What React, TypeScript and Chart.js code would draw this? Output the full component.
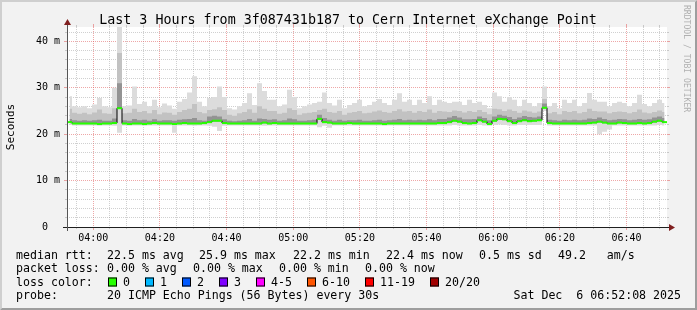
import React, { useEffect, useRef } from 'react';
import { Chart, registerables } from 'chart.js';

Chart.register(...registerables);

const W = 697;
const H = 310;
const FONT = '"DejaVu Sans Mono", monospace';

const TITLE = 'Last 3 Hours from 3f087431b187 to Cern Internet eXchange Point';
const Y_AXIS_TITLE = 'Seconds';
const SIDE_TEXT = 'RRDTOOL / TOBI OETIKER';

// time window 03:52:08 .. 06:52:08 (minutes of the day)
const X_MIN = 3 * 60 + 52 + 8 / 60;
const X_MAX = X_MIN + 180;
const STEP_MIN = 1.5;
const Y_MAX = 43.1;

const timeTickLabels = ['04:00', '04:20', '04:40', '05:00', '05:20', '05:40', '06:00', '06:20', '06:40'];
const yTickValues = [0, 10, 20, 30, 40];
const yTickLabels = ['0  ', '10 m', '20 m', '30 m', '40 m'];

// median RTT (ms), one value per 1.5 minutes
const medianRtt = [
  22.6, 22.3, 22.3, 22.3, 22.3, 22.3, 22.2, 22.3, 22.3, 22.4,
  25.6, 22.3, 22.2, 22.3, 22.3, 22.2, 22.3, 22.4, 22.3, 22.3,
  22.3, 22.2, 22.3, 22.4, 22.3, 22.3, 22.3, 22.4, 22.6, 22.9,
  22.9, 22.4, 22.3, 22.3, 22.3, 22.3, 22.3, 22.3, 22.3, 22.5,
  22.3, 22.4, 22.3, 22.3, 22.3, 22.3, 22.3, 22.3, 22.3, 22.3,
  23.3, 22.6, 22.5, 22.3, 22.3, 22.3, 22.4, 22.3, 22.3, 22.3,
  22.3, 22.3, 22.3, 22.2, 22.3, 22.3, 22.3, 22.3, 22.3, 22.3,
  22.3, 22.3, 22.3, 22.3, 22.4, 22.4, 22.6, 22.9, 22.7, 22.4,
  22.3, 22.4, 23.0, 22.7, 22.2, 22.9, 23.3, 23.2, 22.8, 22.4,
  22.8, 23.0, 22.8, 22.9, 23.0, 25.7, 22.4, 22.3, 22.3, 22.3,
  22.3, 22.3, 22.3, 22.3, 22.4, 22.5, 22.7, 22.5, 22.3, 22.3,
  22.5, 22.4, 22.3, 22.3, 22.4, 22.3, 22.4, 22.7, 22.9, 22.6,
];

// smoke: highest ping
const smokeMax = [
  28.2, 26.0, 25.8, 26.0, 25.6, 26.4, 27.8, 26.0, 25.8, 30.0,
  43.1, 26.0, 26.2, 30.3, 26.5, 27.0, 26.0, 27.4, 25.8, 26.6,
  26.2, 25.5, 27.0, 27.6, 29.0, 32.5, 27.0, 26.0, 27.8, 28.0,
  30.3, 28.0, 25.6, 25.3, 26.0, 26.7, 28.8, 26.3, 31.0, 29.3,
  27.4, 27.4, 26.0, 26.4, 29.6, 28.0, 25.6, 26.0, 26.4, 26.7,
  27.0, 29.0, 26.7, 26.2, 27.4, 25.6, 26.3, 26.7, 27.4, 26.0,
  26.3, 27.0, 27.6, 26.7, 26.3, 27.4, 28.8, 27.0, 27.4, 26.3,
  27.4, 26.7, 28.2, 26.3, 27.4, 27.0, 26.7, 27.0, 27.0, 26.3,
  27.4, 26.7, 27.0, 26.3, 25.6, 29.0, 28.2, 27.0, 28.0, 27.4,
  26.0, 27.4, 26.7, 26.0, 26.7, 30.3, 26.0, 26.7, 25.6, 27.4,
  26.7, 27.4, 26.0, 26.7, 28.9, 27.4, 27.0, 27.0, 26.0, 26.7,
  27.0, 26.7, 26.0, 26.7, 28.5, 26.5, 26.0, 26.7, 27.4, 26.7,
];

// smoke: upper medium band
const smokeMid = [
  25.5, 24.6, 24.4, 24.6, 24.3, 24.7, 25.3, 24.5, 24.4, 25.6,
  37.5, 24.5, 24.6, 25.5, 24.8, 25.0, 24.5, 25.2, 24.3, 24.7,
  24.6, 24.2, 24.8, 25.2, 25.5, 26.5, 24.8, 24.5, 25.2, 25.4,
  25.8, 25.2, 24.2, 24.0, 24.5, 24.8, 25.4, 24.6, 26.0, 25.5,
  25.0, 25.0, 24.4, 24.6, 25.6, 25.2, 24.2, 24.5, 24.6, 24.8,
  25.2, 25.5, 24.8, 24.6, 25.0, 24.2, 24.6, 24.8, 25.0, 24.5,
  24.6, 24.9, 25.1, 24.8, 24.6, 25.0, 25.4, 24.9, 25.0, 24.6,
  25.0, 24.8, 25.3, 24.6, 25.0, 24.9, 24.8, 25.1, 25.0, 24.7,
  25.0, 24.8, 25.2, 24.8, 24.3, 25.5, 25.4, 25.0, 25.3, 25.0,
  24.6, 25.1, 24.9, 24.6, 24.9, 27.6, 24.5, 24.8, 24.3, 25.0,
  24.8, 25.0, 24.5, 24.8, 25.5, 25.0, 24.9, 24.9, 24.5, 24.8,
  24.9, 24.8, 24.5, 24.8, 25.3, 24.7, 24.5, 24.8, 25.1, 24.8,
];

// smoke: dark band next to the median
const smokeInner = [
  23.3, 23.0, 22.9, 23.0, 22.9, 23.0, 23.1, 22.9, 22.9, 23.4,
  31.0, 23.0, 22.9, 23.3, 23.0, 23.1, 22.9, 23.2, 22.9, 23.0,
  23.0, 22.9, 23.1, 23.2, 23.3, 23.5, 23.0, 22.9, 23.8, 24.0,
  23.8, 23.2, 22.9, 22.8, 22.9, 23.0, 23.3, 22.9, 23.4, 23.3,
  23.1, 23.2, 22.9, 23.0, 23.4, 23.2, 22.9, 22.9, 23.0, 23.1,
  24.2, 23.5, 23.1, 22.9, 23.1, 22.9, 23.0, 23.0, 23.1, 22.9,
  22.9, 23.0, 23.1, 22.9, 23.0, 23.1, 23.3, 23.0, 23.1, 23.0,
  23.1, 23.0, 23.2, 23.0, 23.3, 23.3, 23.6, 23.9, 23.6, 23.2,
  23.2, 23.3, 23.8, 23.5, 23.0, 23.8, 24.2, 24.0, 23.7, 23.3,
  23.6, 23.9, 23.7, 23.6, 23.8, 26.6, 23.1, 23.0, 22.9, 23.1,
  23.0, 23.1, 23.0, 23.1, 23.4, 23.3, 23.6, 23.3, 23.0, 23.1,
  23.3, 23.2, 23.0, 23.1, 23.3, 23.1, 23.2, 23.6, 23.8, 23.5,
];

// smoke: lowest ping
const smokeMin = [
  22.0, 21.9, 21.9, 21.9, 21.9, 21.9, 21.8, 21.9, 21.9, 21.8,
  20.3, 21.9, 21.8, 21.9, 21.9, 21.8, 21.9, 21.9, 21.9, 21.9,
  21.9, 20.3, 21.9, 21.9, 21.9, 21.8, 21.9, 21.9, 21.8, 21.6,
  20.7, 21.8, 21.9, 21.9, 21.9, 21.9, 21.9, 21.9, 21.9, 21.8,
  21.9, 21.9, 21.9, 21.9, 21.9, 21.9, 21.9, 21.9, 21.9, 21.9,
  21.5, 21.8, 21.4, 21.9, 21.9, 21.9, 21.9, 21.9, 21.9, 21.9,
  21.9, 21.9, 21.9, 21.8, 21.9, 21.9, 21.9, 21.9, 21.9, 21.9,
  21.9, 21.9, 21.9, 21.9, 21.9, 21.9, 21.9, 22.0, 21.9, 21.9,
  21.9, 21.9, 22.0, 21.9, 21.8, 22.0, 22.1, 22.0, 21.9, 21.9,
  22.0, 22.0, 22.0, 22.0, 22.0, 25.0, 21.9, 21.9, 21.9, 21.9,
  21.9, 21.9, 21.9, 21.9, 21.9, 21.9, 20.0, 20.5, 21.0, 21.9,
  21.9, 21.9, 21.9, 21.9, 21.9, 21.9, 21.9, 21.9, 22.0, 21.9,
];

const rttLabel = 'median rtt:';
const rttStats = ['22.5 ms avg', '25.9 ms max', '22.2 ms min', '22.4 ms now', '0.5 ms sd', '49.2   am/s'];
const lossLabel = 'packet loss:';
const lossStats = ['0.00 % avg', '0.00 % max', '0.00 % min', '0.00 % now'];
const lossColorLabel = 'loss color:';
const lossLabels = ['0', '1', '2', '3', '4-5', '6-10', '11-19', '20/20'];
const lossColors = ['#26ff00', '#00b8ff', '#0059ff', '#7e00ff', '#ff00ff', '#ff5500', '#ff0000', '#a10000'];
const probeLabel = 'probe:';
const probeText = '20 ICMP Echo Pings (56 Bytes) every 30s';
const dateText = 'Sat Dec  6 06:52:08 2025';

const GRID = 'rgba(143,143,143,0.42)';
const MGRID = 'rgba(222,79,79,0.5)';
const ARROW = '#801f1f';

const toPoints = (arr: number[]) => arr.map((v, i) => ({ x: X_MIN + STEP_MIN * (i + 0.5), y: v }));

const minorX: number[] = [];
for (let m = 235; m <= 410; m += 5) minorX.push(m);
const minorY: number[] = [];
for (let v = 0; v <= 42; v += 2) minorY.push(v);

const align = (p: number) => Math.round(p - 0.5) + 0.5;

const rrdPlugin = {
  id: 'rrdDecor',
  beforeDraw(chart: any) {
    const { ctx, chartArea: a } = chart;
    ctx.save();
    ctx.fillStyle = '#f2f2f2';
    ctx.fillRect(0, 0, W, H);
    ctx.fillStyle = '#cfcfcf';
    ctx.beginPath();
    ctx.moveTo(0, 0); ctx.lineTo(W, 0); ctx.lineTo(W - 2, 2); ctx.lineTo(2, 2); ctx.lineTo(2, H - 2); ctx.lineTo(0, H);
    ctx.closePath(); ctx.fill();
    ctx.fillStyle = '#9e9e9e';
    ctx.beginPath();
    ctx.moveTo(W, 0); ctx.lineTo(W, H); ctx.lineTo(0, H); ctx.lineTo(2, H - 2); ctx.lineTo(W - 2, H - 2); ctx.lineTo(W - 2, 2);
    ctx.closePath(); ctx.fill();
    ctx.fillStyle = '#ffffff';
    ctx.fillRect(a.left, a.top, a.right - a.left, a.bottom - a.top);
    ctx.restore();
  },
  afterDraw(chart: any) {
    const { ctx, chartArea: a } = chart;
    const xs = chart.scales.x;
    const ys = chart.scales.y;
    ctx.save();
    ctx.lineWidth = 1;
    // tick marks on the frame
    minorX.forEach((m) => {
      const major = m % 20 === 0;
      const px = align(xs.getPixelForValue(m));
      const len = major ? 3 : 2;
      ctx.strokeStyle = major ? MGRID : GRID;
      ctx.beginPath();
      ctx.moveTo(px, a.top - len); ctx.lineTo(px, a.top);
      ctx.moveTo(px, a.bottom); ctx.lineTo(px, a.bottom + len);
      ctx.stroke();
    });
    minorY.forEach((v) => {
      if (v === 0) return;
      const major = v % 10 === 0;
      const py = align(ys.getPixelForValue(v));
      const len = major ? 3 : 2;
      ctx.strokeStyle = major ? MGRID : GRID;
      ctx.beginPath();
      ctx.moveTo(a.left - len, py); ctx.lineTo(a.left, py);
      ctx.moveTo(a.right, py); ctx.lineTo(a.right + len, py);
      ctx.stroke();
    });
    // axes
    ctx.fillStyle = '#1f1f1f';
    ctx.fillRect(a.left - 4, a.bottom, a.right - a.left + 8, 1);
    ctx.fillStyle = '#555555';
    ctx.fillRect(a.left, a.top - 4, 1, a.bottom - a.top + 8);
    // arrows
    ctx.fillStyle = ARROW;
    ctx.beginPath();
    ctx.moveTo(a.right + 2, a.bottom - 3); ctx.lineTo(a.right + 8, a.bottom + 0.5); ctx.lineTo(a.right + 2, a.bottom + 4);
    ctx.closePath(); ctx.fill();
    ctx.beginPath();
    ctx.moveTo(a.left - 3, a.top - 2); ctx.lineTo(a.left + 0.5, a.top - 8); ctx.lineTo(a.left + 4, a.top - 2);
    ctx.closePath(); ctx.fill();

    // title
    ctx.fillStyle = '#000';
    ctx.font = `13.33px ${FONT}`;
    ctx.textAlign = 'center';
    ctx.textBaseline = 'alphabetic';
    ctx.fillText(TITLE, 348, 24);

    // y axis title
    ctx.save();
    ctx.font = `11px ${FONT}`;
    ctx.translate(11, (a.top + a.bottom) / 2);
    ctx.rotate(-Math.PI / 2);
    ctx.textAlign = 'center';
    ctx.textBaseline = 'middle';
    ctx.fillText(Y_AXIS_TITLE, 0, 0);
    ctx.restore();

    // side watermark
    ctx.save();
    ctx.font = `8.1px ${FONT}`;
    ctx.fillStyle = '#b0b0b0';
    ctx.translate(686, 5);
    ctx.rotate(Math.PI / 2);
    ctx.textAlign = 'left';
    ctx.textBaseline = 'middle';
    ctx.fillText(SIDE_TEXT, 0, 0);
    ctx.restore();

    // legend
    ctx.font = `11.6px ${FONT}`;
    ctx.textAlign = 'left';
    ctx.textBaseline = 'alphabetic';
    ctx.fillStyle = '#000';
    const rows = [258.5, 272, 285.5, 299];
    ctx.fillText(rttLabel, 16, rows[0]);
    const rttX = [107, 199, 293, 386, 479, 558];
    rttStats.forEach((s, i) => ctx.fillText(s, rttX[i], rows[0]));
    ctx.fillText(lossLabel, 16, rows[1]);
    const lossX = [107, 193, 279, 365];
    lossStats.forEach((s, i) => ctx.fillText(s, lossX[i], rows[1]));
    ctx.fillText(lossColorLabel, 16, rows[2]);
    const boxX = [108, 145, 182, 219, 256, 307, 365, 430];
    lossLabels.forEach((s, i) => {
      ctx.fillStyle = lossColors[i];
      ctx.fillRect(boxX[i], rows[2] - 8, 9, 9);
      ctx.strokeStyle = '#000';
      ctx.strokeRect(boxX[i] + 0.5, rows[2] - 7.5, 8, 8);
      ctx.fillStyle = '#000';
      ctx.fillText(s, boxX[i] + 15, rows[2]);
    });
    ctx.fillText(probeLabel, 16, rows[3]);
    ctx.fillText(probeText, 107, rows[3]);
    ctx.textAlign = 'right';
    ctx.fillText(dateText, 681, rows[3]);
    ctx.restore();
  },
};

export default function App() {
  const ref = useRef<HTMLCanvasElement | null>(null);

  useEffect(() => {
    if (!ref.current) return;
    const smoke = (data: number[], color: string, target: number) => ({
      data: toPoints(data),
      borderWidth: 0,
      borderColor: 'rgba(0,0,0,0)',
      backgroundColor: color,
      pointRadius: 0,
      stepped: 'middle' as const,
      fill: target,
    });
    const chart = new Chart(ref.current, {
      type: 'line',
      data: {
        datasets: [
          {
            data: toPoints(medianRtt),
            showLine: false,
            pointStyle: 'line',
            pointRadius: 2.5,
            pointBorderWidth: 2,
            pointBorderColor: lossColors[0],
            pointBackgroundColor: lossColors[0],
            fill: false,
          },
          {
            data: toPoints(medianRtt),
            borderColor: '#000000',
            borderWidth: 1,
            pointRadius: 0,
            stepped: 'middle',
            fill: false,
          },
          smoke(smokeInner, '#939393', 1),
          smoke(smokeMid, '#c2c2c2', 1),
          smoke(smokeMax, '#dcdcdc', 5),
          {
            data: toPoints(smokeMin),
            borderWidth: 0,
            borderColor: 'rgba(0,0,0,0)',
            pointRadius: 0,
            stepped: 'middle',
            fill: false,
          },
        ] as any,
      },
      options: {
        responsive: false,
        animation: false,
        devicePixelRatio: 1,
        events: [],
        layout: { padding: { top: 27, right: 30, bottom: 0, left: 0 } },
        plugins: {
          legend: { display: false },
          title: { display: false },
          tooltip: { enabled: false },
        },
        scales: {
          x: {
            type: 'linear',
            min: X_MIN,
            max: X_MAX,
            z: 1,
            afterFit: (s: any) => { s.height = 83; },
            afterBuildTicks: (s: any) => { s.ticks = minorX.map((v) => ({ value: v })); },
            ticks: {
              autoSkip: false,
              maxRotation: 0,
              padding: 5,
              color: '#000',
              font: { family: FONT, size: 10 },
              callback: (v: any) => {
                const k = (Number(v) - 240) / 20;
                return Number.isInteger(k) && k >= 0 && k < timeTickLabels.length ? timeTickLabels[k] : '';
              },
            },
            grid: {
              drawTicks: false,
              tickLength: 0,
              lineWidth: 1,
              color: (c: any) => (c.tick && c.tick.value % 20 === 0 ? MGRID : GRID),
            },
            border: { display: false, dash: [1, 1] },
          },
          y: {
            type: 'linear',
            min: 0,
            max: Y_MAX,
            z: 1,
            afterFit: (s: any) => { s.width = 67; },
            afterBuildTicks: (s: any) => { s.ticks = minorY.map((v) => ({ value: v })); },
            ticks: {
              autoSkip: false,
              padding: 7,
              color: '#000',
              font: { family: FONT, size: 10 },
              callback: (v: any) => {
                const k = yTickValues.indexOf(Number(v));
                return k >= 0 ? yTickLabels[k] : '';
              },
            },
            grid: {
              drawTicks: false,
              tickLength: 0,
              lineWidth: 1,
              color: (c: any) => {
                if (!c.tick || c.tick.value === 0) return 'rgba(0,0,0,0)';
                return c.tick.value % 10 === 0 ? MGRID : GRID;
              },
            },
            border: { display: false, dash: [1, 1] },
          },
        },
      } as any,
      plugins: [rrdPlugin],
    });
    return () => chart.destroy();
  }, []);

  return (
    <div style={{ position: 'absolute', left: 0, top: 0, width: W, height: H }}>
      <canvas ref={ref} width={W} height={H} style={{ display: 'block', width: W, height: H }} />
    </div>
  );
}
